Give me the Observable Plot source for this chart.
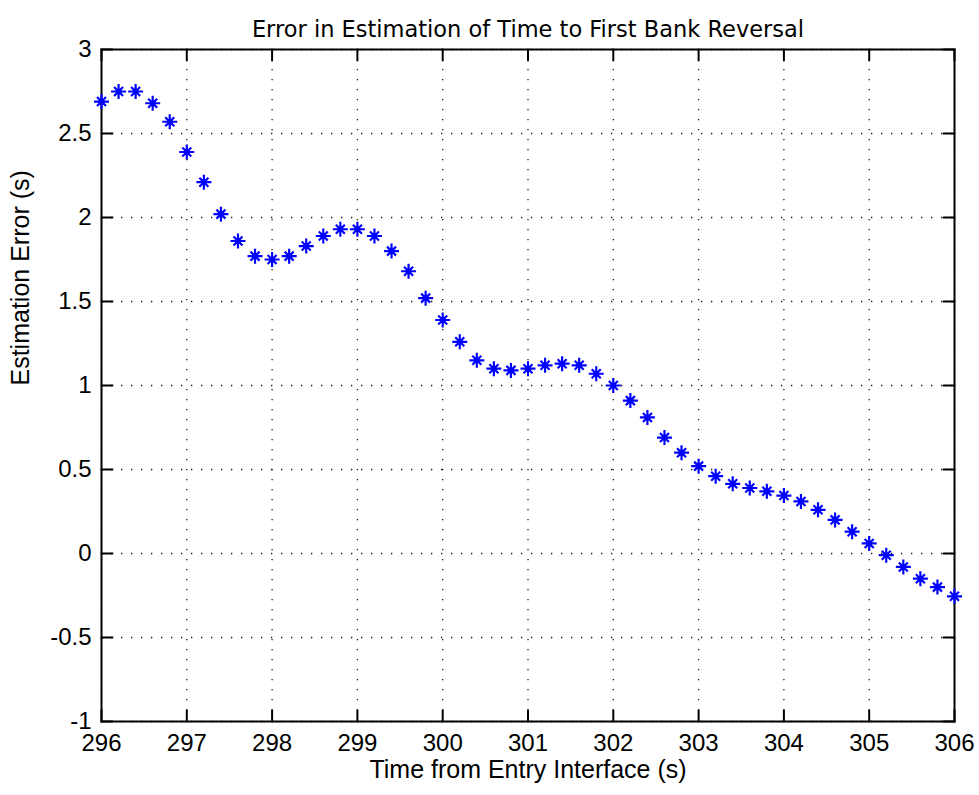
<!DOCTYPE html>
<html><head><meta charset="utf-8">
<script src="https://cdn.jsdelivr.net/npm/d3@7"></script>
<script src="https://cdn.jsdelivr.net/npm/@observablehq/plot@0.6"></script>
<style>body{margin:0;background:#fff} svg{display:block}</style>
</head><body><div id="chart"></div>
<script>
const title = "Error in Estimation of Time to First Bank Reversal";
const xLabel = "Time from Entry Interface (s)";
const yLabel = "Estimation Error (s)";
const xTicks = [296, 297, 298, 299, 300, 301, 302, 303, 304, 305, 306];
const yTicks = [-1, -0.5, 0, 0.5, 1, 1.5, 2, 2.5, 3];
const xDomain = [296, 306];
const yDomain = [-1, 3];
const times = [296, 296.2, 296.4, 296.6, 296.8, 297, 297.2, 297.4, 297.6, 297.8,
  298, 298.2, 298.4, 298.6, 298.8, 299, 299.2, 299.4, 299.6, 299.8,
  300, 300.2, 300.4, 300.6, 300.8, 301, 301.2, 301.4, 301.6, 301.8,
  302, 302.2, 302.4, 302.6, 302.8, 303, 303.2, 303.4, 303.6, 303.8,
  304, 304.2, 304.4, 304.6, 304.8, 305, 305.2, 305.4, 305.6, 305.8, 306];
const errors = [2.69, 2.75, 2.75, 2.68, 2.57, 2.39, 2.21, 2.02, 1.86, 1.77,
  1.75, 1.77, 1.83, 1.89, 1.93, 1.93, 1.89, 1.80, 1.68, 1.52,
  1.39, 1.26, 1.15, 1.10, 1.09, 1.10, 1.12, 1.13, 1.12, 1.07,
  1.00, 0.91, 0.81, 0.69, 0.60, 0.52, 0.46, 0.415, 0.39, 0.37,
  0.345, 0.31, 0.26, 0.20, 0.13, 0.06, -0.01, -0.08, -0.15, -0.20, -0.255];

const rows = times.map((t, i) => ({t, e: errors[i]}));

const asterisk = {
  draw(context, size) {
    const r = Math.sqrt(size / Math.PI);
    const d = r * 0.6;
    context.moveTo(-r, 0); context.lineTo(r, 0);
    context.moveTo(0, -r); context.lineTo(0, r);
    context.moveTo(-d, -d); context.lineTo(d, d);
    context.moveTo(-d, d); context.lineTo(d, -d);
  }
};
const tickShape = {
  draw(context, l) { context.moveTo(0, 0); context.lineTo(0, -l); }
};

const font = "'Liberation Sans', Arial, sans-serif";
const gridStyle = {stroke: "#000", strokeOpacity: 0.9, strokeWidth: 1.3, strokeDasharray: "1.3 8.7"};
const tickStyle = {length: 11, anchor: "start", shape: tickShape, stroke: "#000", strokeWidth: 2};

const chart = Plot.plot({
  width: 979,
  height: 795,
  marginLeft: 101,
  marginRight: 25,
  marginTop: 49,
  marginBottom: 74,
  style: {fontFamily: font, color: "#000", background: "#fff"},
  x: {domain: xDomain},
  y: {domain: yDomain},
  marks: [
    Plot.gridX(xTicks, gridStyle),
    Plot.gridY(yTicks, gridStyle),
    Plot.vector(xTicks, {x: d => d, y: yDomain[0], rotate: 0, ...tickStyle}),
    Plot.vector(xTicks, {x: d => d, y: yDomain[1], rotate: 180, ...tickStyle}),
    Plot.vector(yTicks, {x: xDomain[0], y: d => d, rotate: 90, ...tickStyle}),
    Plot.vector(yTicks, {x: xDomain[1], y: d => d, rotate: -90, ...tickStyle}),
    Plot.frame({stroke: "#000", strokeWidth: 2}),
    Plot.axisX(xTicks, {tickSize: 0, tickPadding: 12, tickFormat: d => String(d), label: null, fontSize: 24}),
    Plot.axisY(yTicks, {tickSize: 0, tickPadding: 10, tickFormat: d => String(d), label: null, fontSize: 24}),
    Plot.dot(rows, {x: "t", y: "e", symbol: asterisk, r: 7.5, stroke: "#0000ff", strokeWidth: 2.2}),
    Plot.dot(rows, {x: "t", y: "e", r: 2.8, fill: "#0000ff", stroke: "none"}),
    Plot.text([title], {text: d => d, frameAnchor: "top", dy: -28.5, fontSize: 22.5, fontFamily: "'DejaVu Sans', sans-serif", fill: "#000"}),
    Plot.text([xLabel], {text: d => d, frameAnchor: "bottom", dy: 56, fontSize: 25, fill: "#000"}),
    Plot.text([yLabel], {text: d => d, frameAnchor: "left", dx: -81, rotate: -90, fontSize: 25, fill: "#000"})
  ]
});
document.getElementById("chart").appendChild(chart);
</script>
</body></html>
